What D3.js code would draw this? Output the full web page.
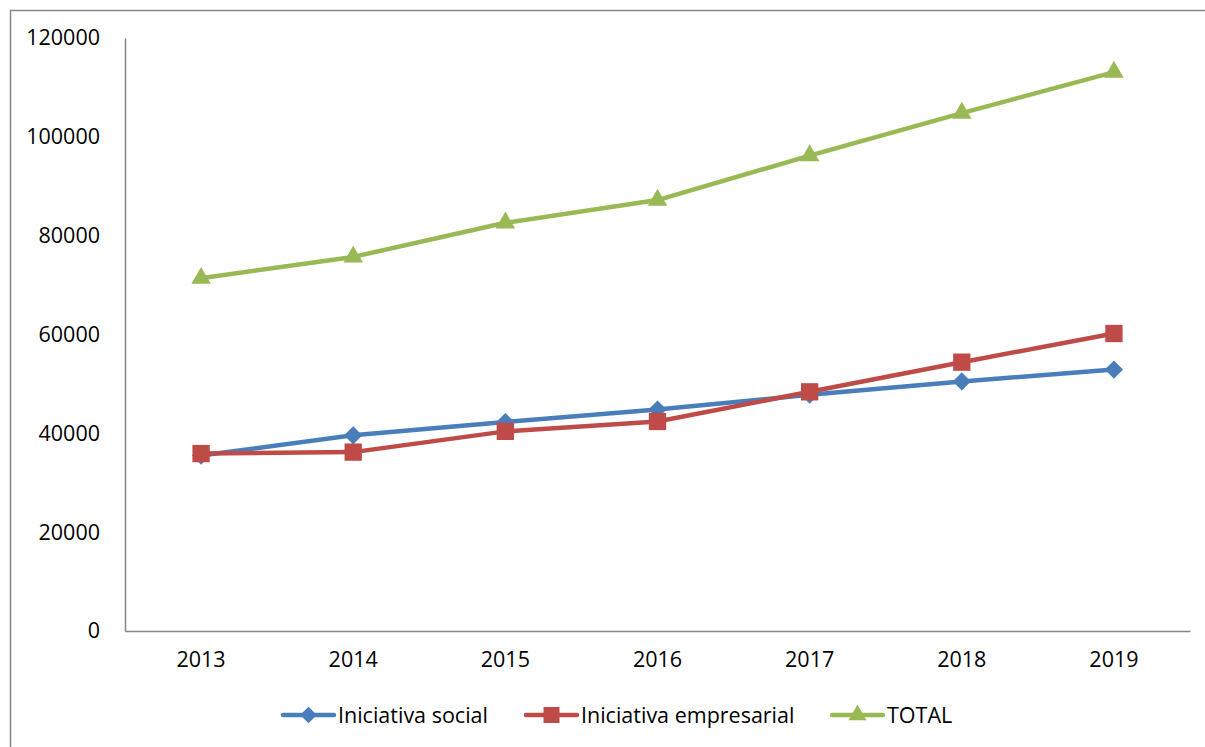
<!DOCTYPE html>
<html>
<head>
<meta charset="utf-8">
<script src="https://cdn.jsdelivr.net/npm/d3@7"></script>
<style>
  html, body { margin: 0; padding: 0; background: #ffffff; }
  svg { display: block; }
</style>
</head>
<body>
<svg id="chart"></svg>
<script>
let years = ['2013', '2014', '2015', '2016', '2017', '2018', '2019'];
let social = [35500, 39600, 42300, 44800, 47800, 50500, 52900];
let empresarial = [35900, 36200, 40400, 42400, 48400, 54400, 60200];
let total = [71400, 75700, 82600, 87200, 96200, 104800, 113100];
let yTicks = [0, 20000, 40000, 60000, 80000, 100000, 120000];

(function(){
  let width = 1205, height = 747;
  let font = '"Open Sans", Lato, sans-serif';
  let fontSize = 21.5;

  let svg = d3.select('svg#chart')
      .attr('width', width)
      .attr('height', height);

  // outer chart frame, runs off the bottom/right like the source
  svg.append('rect')
      .attr('x', 10.5).attr('y', 10.5)
      .attr('width', width + 20).attr('height', height + 20)
      .attr('fill', 'none')
      .attr('stroke', '#868686')
      .attr('stroke-width', 1.5);

  let x = d3.scaleBand().domain(years).range([125, 1190]).padding(0);
  let cx = d => x(d) + x.bandwidth() / 2;
  let y = d3.scaleLinear().domain([0, 120000]).range([631, 38]);

  let yAxis = svg.append('g')
      .attr('transform', 'translate(125,0)')
      .call(d3.axisLeft(y).tickValues(yTicks).tickSize(0).tickPadding(25).tickFormat(d3.format('d')));
  yAxis.select('.domain').attr('stroke', '#868686').attr('stroke-width', 1.5);
  yAxis.selectAll('text')
      .attr('font-family', font).attr('font-size', fontSize).attr('fill', '#000');

  let xAxis = svg.append('g')
      .attr('transform', 'translate(0,631)')
      .call(d3.axisBottom(x).tickSize(0).tickPadding(21));
  xAxis.select('.domain').attr('stroke', '#868686').attr('stroke-width', 1.5);
  xAxis.selectAll('text')
      .attr('font-family', font).attr('font-size', fontSize).attr('fill', '#000');

  let series = [
    {name: 'Iniciativa social', values: social, color: '#4a7ebb', symbol: 'diamond'},
    {name: 'Iniciativa empresarial', values: empresarial, color: '#be4b48', symbol: 'square'},
    {name: 'TOTAL', values: total, color: '#98b954', symbol: 'triangle'}
  ];

  let marker = (sel, s, scale) => {
    if(s.symbol === 'diamond'){
      sel.append('path').attr('d', d3.symbol(d3.symbolSquare, 165 * scale)());
    } else if(s.symbol === 'square'){
      sel.append('path').attr('d', d3.symbol(d3.symbolSquare, 300 * scale)());
    } else {
      sel.append('path').attr('d', d3.symbol(d3.symbolTriangle, 165 * scale)());
    }
  };

  let line = d3.line()
      .x((d, i) => cx(years[i]))
      .y(d => y(d));

  series.forEach(s => {
    let g = svg.append('g');
    g.append('path')
        .attr('d', line(s.values))
        .attr('fill', 'none')
        .attr('stroke', s.color)
        .attr('stroke-width', 4.5)
        .attr('stroke-linejoin', 'round');

    g.selectAll('g.pt')
      .data(s.values)
      .enter().append('g')
        .attr('class', 'pt')
        .attr('fill', s.color)
        .each(function(d, i){
          let t = 'translate(' + cx(years[i]) + ',' + y(d) + ')';
          let p = d3.select(this);
          marker(p, s, 1);
          p.select('path').attr('transform', s.symbol === 'diamond' ? t + ' rotate(45)' : t);
        });
  });

  // legend
  let legendX = [283, 526, 832];
  series.forEach((s, i) => {
    let lg = svg.append('g').attr('transform', 'translate(' + legendX[i] + ',715)');
    lg.append('line')
        .attr('x1', 0).attr('x2', 51)
        .attr('stroke', s.color).attr('stroke-width', 4.5)
        .attr('stroke-linecap', 'round');
    let m = lg.append('g').attr('fill', s.color);
    marker(m, s, 0.85);
    m.select('path').attr('transform', s.symbol === 'diamond' ? 'translate(25.5,0) rotate(45)' : 'translate(25.5,0)');
    lg.append('text')
        .attr('x', 55).attr('dy', '0.35em')
        .attr('font-family', font).attr('font-size', fontSize)
        .text(s.name);
  });
})();
</script>
</body>
</html>
